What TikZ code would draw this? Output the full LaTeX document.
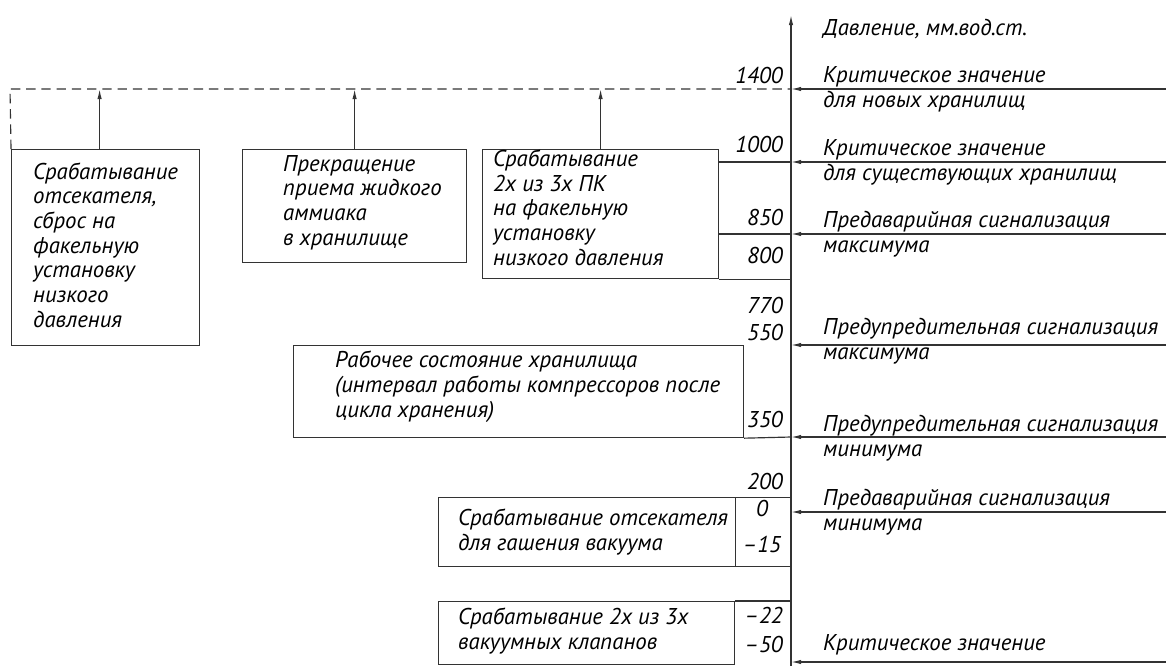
\documentclass[tikz,border=0pt]{standalone}
\usepackage{fontspec}
\setmainfont{PT Sans}
\usetikzlibrary{arrows.meta}

\tikzset{
  line/.style={draw=black!80,line width=1pt},
  box/.style={line,anchor=north west,inner sep=0pt},
  txt/.style={anchor=base west,align=left,inner sep=0pt,
    font=\itshape\fontsize{19.5}{21}\selectfont},
  num/.style={anchor=base east,inner sep=0pt,
    font=\itshape\fontsize{19.5}{21}\selectfont},
  lvl/.style={line,-{Latex[length=3mm,width=1.3mm]}},
}

\begin{document}
\begin{tikzpicture}[x=0.3mm,y=-0.3mm]
   \useasboundingbox (0,0) rectangle (1166,666);
   % pressure axis and levels
   \coordinate (ax0) at (791,666);
   \coordinate (ax1) at (791,15);
   \coordinate (p1400) at (791,89);
   \coordinate (p1000) at (791,162);
   \coordinate (p850)  at (791,234);
   \coordinate (p550)  at (791,345);
   \coordinate (p350)  at (791,437);
   \coordinate (p0)    at (791,512);
   \coordinate (pm50)  at (791,662);
   \coordinate (dl)    at (10,89);
   % boxes
   \node[box,minimum width=56.4mm,minimum height=58.8mm] (b1) at (11,149) {};
   \node[box,minimum width=67.2mm,minimum height=33.9mm] (b2) at (242,149) {};
   \node[box,minimum width=70.8mm,minimum height=38.7mm] (b3) at (482,149) {};
   \node[box,minimum width=135mm,minimum height=27.6mm] (b4) at (293,345) {};
   \node[box,minimum width=105.6mm,minimum height=20.7mm] (b5) at (438,497) {};
   \node[box,minimum width=88.8mm,minimum height=18.9mm] (b6) at (438,601) {};
   % box texts (placed at the baseline of their last line)
   \node[txt] (t1) at (33,327) {Срабатывание\\отсекателя,\\сброс на\\факельную\\установку\\низкого\\давления};
   \node[txt] (t2) at (283,245) {Прекращение\\приема жидкого\\аммиака\\в хранилище};
   \node[txt] (t3) at (493,265) {Срабатывание\\2х из 3х ПК\\на факельную\\установку\\низкого давления};
   \node[txt] (t4) at (335,417) {Рабочее состояние хранилища\\(интервал работы компрессоров после\\цикла хранения)};
   \node[txt] (t5) at (458,550) {Срабатывание отсекателя\\для гашения вакуума};
   \node[txt] (t6) at (458,649) {Срабатывание 2х из 3х\\вакуумных клапанов};
   % dashed collector and arrows up
   \draw[line,dashed,dash pattern=on 8pt off 5pt] (b1.north west) -- (dl) -- (p1400);
   \coordinate (a1) at ([xshift=-1.8mm]b1.north);
   \draw[lvl] (a1) -- (a1 |- dl);
   \draw[lvl] (b2.north) -- (b2.north |- dl);
   \draw[lvl] (b3.north) -- (b3.north |- dl);
   % columns next to the axis
   \draw[line] (b3.east |- p1000) -- (p1000);
   \draw[line] (b3.east |- p850) -- (p850);
   \draw[line] (b3.south east) -- (b3.south east -| ax0);
   \draw[line] (b4.south east) -- (p350);
   \draw[line] (b5.north -| b6.east) -- (b5.south -| b6.east);
   \draw[line] (b6.north east) -- (b6.north east -| ax0);
   % levels from the right
   \draw[lvl] (1166,89)  coordinate (r1400) -- (p1400);
   \draw[lvl] (1166,162) coordinate (r1000) -- (p1000);
   \draw[lvl] (1166,234) coordinate (r850)  -- (p850);
   \draw[lvl] (1166,345) coordinate (r550)  -- (p550);
   \draw[lvl] (1166,437) coordinate (r350)  -- (p350);
   \draw[lvl] (1166,512) coordinate (r0)    -- (p0);
   \draw[lvl] (1166,662) coordinate (rm50)  -- (pm50);
   \draw[lvl] (ax0) -- (ax1);
   % values
   \node[num] (n1400) at (783,83)  {1400};
   \node[num] (n1000) at (783,152) {1000};
   \node[num] (n850)  at (783,225) {850};
   \node[num] (n800)  at (783,263) {800};
   \node[num] (n770)  at (783,313) {770};
   \node[num] (n550)  at (783,340) {550};
   \node[num] (n350)  at (783,427) {350};
   \node[num] (n200)  at (783,489) {200};
   \node[num,anchor=base] (n0)   at (762,516) {0};
   \node[num,anchor=base] (nm15) at (762,552) {–15};
   \node[num] (nm22)  at (783,623) {–22};
   \node[num] (nm50)  at (783,652) {–50};
   % labels
   \node[txt] (l0)    at (823,35)  {Давление, мм.вод.ст.};
   \node[txt] (l1400) at (823,107) {Критическое значение\\для новых хранилищ};
   \node[txt] (l1000) at (823,180) {Критическое значение\\для существующих хранилищ};
   \node[txt] (l850)  at (823,252) {Предаварийная сигнализация\\максимума};
   \node[txt] (l550)  at (823,359) {Предупредительная сигнализация\\максимума};
   \node[txt] (l350)  at (823,456) {Предупредительная сигнализация\\минимума};
   \node[txt] (l0b)   at (823,530) {Предаварийная сигнализация\\минимума};
   \node[txt] (lm50)  at (823,650) {Критическое значение};
\end{tikzpicture}
\end{document}
